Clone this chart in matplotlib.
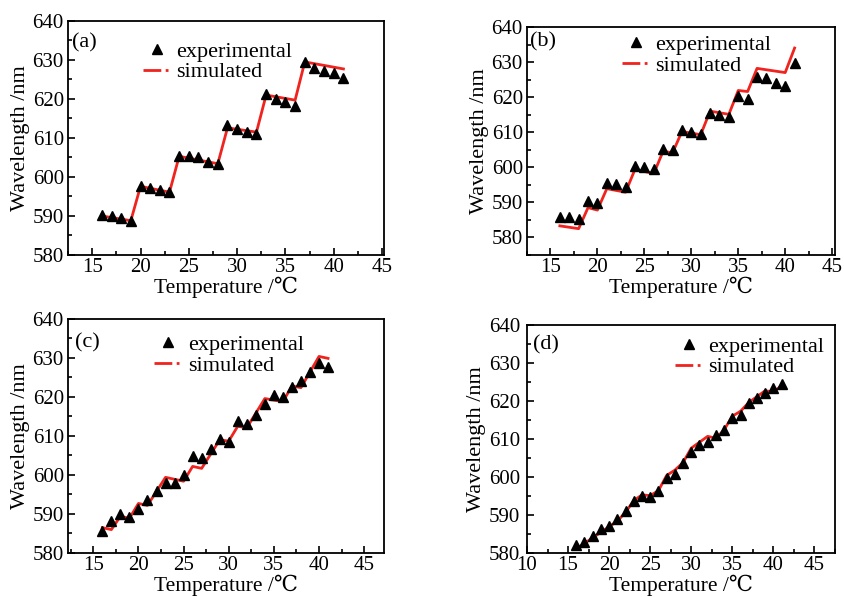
import matplotlib
matplotlib.use("Agg")
import matplotlib.pyplot as plt
from matplotlib.lines import Line2D
from matplotlib.ticker import MultipleLocator

# experimental temperatures (same for all four panels)
temp_exp = list(range(16, 42))

# (a)
exp_a = [590.3, 589.9, 589.6, 588.8, 597.8, 597.1, 596.7, 596.1, 605.5, 605.3,
         605.0, 603.8, 603.4, 613.2, 612.4, 611.5, 611.1, 621.3, 620.1, 619.2,
         618.3, 629.5, 628.0, 627.2, 626.7, 625.4]
sim_a_t = [16, 19, 20, 23, 24, 28, 29, 32, 33, 36, 37, 41]
sim_a = [590.0, 588.8, 597.6, 596.1, 605.3, 603.4, 612.6, 611.5, 621.0, 619.7, 629.5, 627.7]

# (b)
exp_b = [585.9, 585.7, 585.2, 590.4, 589.9, 595.6, 595.1, 594.4, 600.5, 600.1,
         599.4, 605.2, 604.8, 610.7, 610.2, 609.5, 615.6, 614.9, 614.2, 620.2,
         619.6, 625.8, 625.4, 624.1, 623.2, 629.6]
sim_b_t = [16, 18, 19, 20, 21, 23, 24, 26, 27, 28, 29, 31, 32, 34, 35, 36, 37, 40, 41]
sim_b = [583.3, 582.5, 588.5, 587.8, 593.9, 592.9, 599.4, 598.2, 604.6, 604.1,
         610.2, 609.3, 616.0, 615.1, 621.9, 621.6, 628.2, 627.0, 634.0]

# (c)
exp_c = [585.7, 588.1, 590.1, 589.3, 591.2, 593.6, 595.8, 598.0, 597.9, 600.0,
         604.9, 604.3, 606.6, 609.3, 608.5, 613.8, 613.2, 615.3, 618.3, 620.6,
         620.1, 622.5, 624.2, 626.5, 628.8, 627.6]
sim_c_t = [16, 17, 18, 19, 20, 21, 23, 25, 26, 27, 29, 30, 31, 32, 34, 36, 37, 38, 40, 41]
sim_c = [586.5, 586.0, 589.4, 588.9, 592.7, 592.2, 599.4, 598.4, 602.2, 601.7,
         609.0, 608.7, 612.5, 612.1, 619.6, 618.8, 622.8, 622.4, 630.4, 629.9]

# (d)
exp_d = [582.0, 583.0, 584.4, 586.4, 587.1, 588.9, 591.1, 593.7, 595.1, 594.8,
         596.4, 599.7, 600.9, 603.6, 606.5, 608.3, 609.3, 611.1, 612.4, 615.4,
         616.4, 619.6, 620.7, 622.2, 623.4, 624.4]
sim_d_t = [16, 18, 21, 22, 23, 24, 25, 26, 27, 28, 29, 30, 32, 33, 34, 35, 36, 37, 39, 40, 41]
sim_d = [581.1, 584.0, 588.4, 590.7, 593.8, 595.3, 595.1, 596.4, 600.4, 601.8,
         603.8, 607.6, 610.7, 610.2, 612.4, 616.0, 617.3, 619.6, 622.7, 622.4, 624.0]

panel_labels = ["(a)", "(b)", "(c)", "(d)"]

plt.rcParams['font.family'] = ['Liberation Serif', 'DejaVu Serif', 'Noto Sans CJK SC']

fig = plt.figure(figsize=(8.44, 5.97), dpi=100)

rects = [
    [0.0806, 0.5729, 0.3744, 0.3920],
    [0.6244, 0.5729, 0.3649, 0.3819],
    [0.0806, 0.0737, 0.3744, 0.3920],
    [0.6244, 0.0737, 0.3649, 0.3819],
]
xlims = [(12.5, 45.2), (12.5, 45.3), (12.2, 47.2), (10, 47.5)]
ylims = [(580, 640), (575, 640), (580, 640), (580, 640)]
legend_anchor = [(0.195, 0.97), (0.266, 1.026), (0.231, 0.991), (0.438, 1.009)]
label_pos = [(0.013, 0.906), (0.010, 0.934), (0.022, 0.897), (0.020, 0.912)]

exps = [exp_a, exp_b, exp_c, exp_d]
sims = [(sim_a_t, sim_a), (sim_b_t, sim_b), (sim_c_t, sim_c), (sim_d_t, sim_d)]

red = '#f0231e'

for i in range(4):
    ax = fig.add_axes(rects[i])
    ax.plot(sims[i][0], sims[i][1], color=red, linewidth=2.0, zorder=2)
    ax.plot(temp_exp, exps[i], linestyle='none', marker='^', color='black',
            markersize=6.5, zorder=3)

    ax.set_xlim(*xlims[i])
    ax.set_ylim(*ylims[i])
    ax.xaxis.set_major_locator(MultipleLocator(5))
    ax.xaxis.set_minor_locator(MultipleLocator(2.5))
    ax.yaxis.set_major_locator(MultipleLocator(10))
    ax.yaxis.set_minor_locator(MultipleLocator(5))
    ax.tick_params(which='both', direction='in', top=False, right=False,
                   labelsize=15, width=1.2)
    ax.tick_params(which='major', length=5, pad=3)
    ax.tick_params(which='minor', length=3)
    ax.tick_params(axis='x', pad=2)
    if i == 3:
        # keep "580" and "10" from running into each other
        ax.tick_params(axis='y', pad=5)
    for s in ax.spines.values():
        s.set_linewidth(1.3)

    ax.set_xlabel("Temperature /℃", fontsize=15.5, labelpad=0)
    ax.set_ylabel("Wavelength /nm", fontsize=16, labelpad=2)

    ax.text(label_pos[i][0], label_pos[i][1], panel_labels[i], transform=ax.transAxes,
            fontsize=16, va='center', ha='left')

    handles = [
        Line2D([], [], linestyle='none', marker='^', color='black', markersize=6.5),
        Line2D([], [], color=red, linestyle='-.', linewidth=2.0),
    ]
    ax.legend(handles, ["experimental", "simulated"], loc='upper left',
              bbox_to_anchor=legend_anchor[i], frameon=False, fontsize=16,
              handlelength=1.25, handletextpad=0.25, labelspacing=0.0,
              borderaxespad=0.2)

fig.savefig("out.png", dpi=100)
